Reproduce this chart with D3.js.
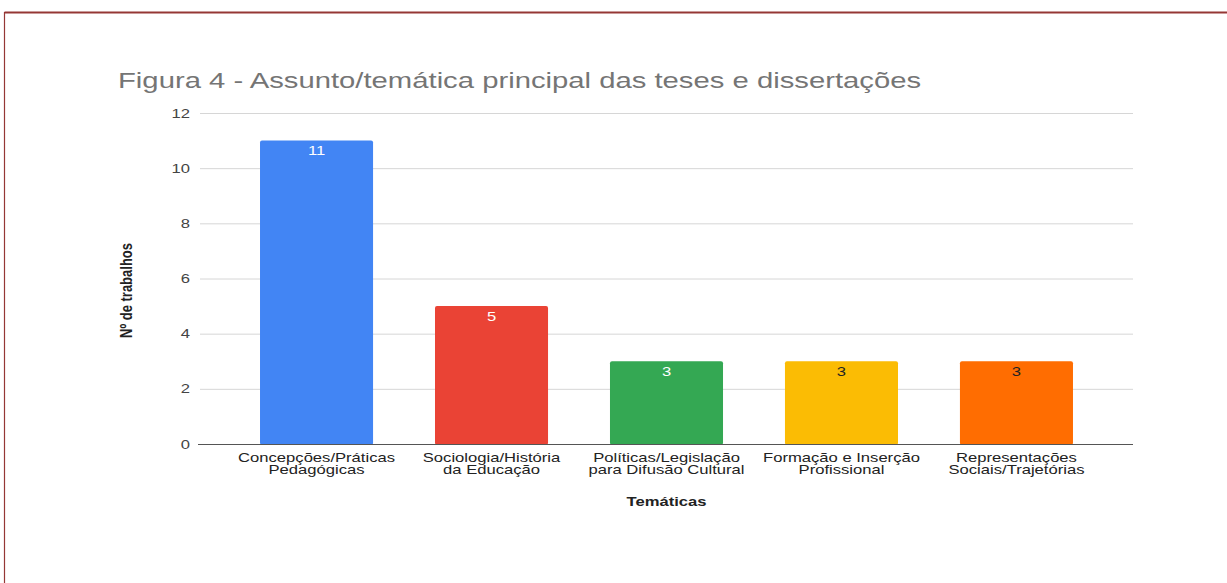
<!DOCTYPE html>
<html><head><meta charset="utf-8">
<script src="https://cdn.jsdelivr.net/npm/d3@7"></script>
<style>body{margin:0;background:#fff}svg{display:block}text{font-family:"Liberation Sans",Arial,sans-serif}</style>
</head><body><svg id="c" width="1227" height="583"></svg>
<script>
const categories = [["Concepções/Práticas","Pedagógicas"],["Sociologia/História","da Educação"],["Políticas/Legislação","para Difusão Cultural"],["Formação e Inserção","Profissional"],["Representações","Sociais/Trajetórias"]];
const values = [11,5,3,3,3];
const colors = ["#4285F4","#EA4335","#34A853","#FBBC04","#FF6D01"];
const labelColors = ["#ffffff","#ffffff","#ffffff","#222222","#222222"];
const yTicks = [0,2,4,6,8,10,12];
const title = "Figura 4 - Assunto/temática principal das teses e dissertações";
const xTitle = "Temáticas";
const yTitle = "Nº de trabalhos";

const SX = 1.33; // horizontal stretch of the glyphs in the reference
const svg = d3.select("#c");
// frame
svg.append("line").attr("x1",4.5).attr("x2",1227).attr("y1",12.5).attr("y2",12.5).attr("stroke","#953735").attr("stroke-width",2);
svg.append("line").attr("x1",4.5).attr("x2",4.5).attr("y1",12).attr("y2",583).attr("stroke","#953735").attr("stroke-width",1.2);

const L=200,R=1133,T=113,B=444;
const y = d3.scaleLinear().domain([0,12]).range([B,T]);
const x = d3.scaleBand().domain(d3.range(values.length)).range([L,R]).paddingInner(0.354).paddingOuter(0.343);

function stext(px,py){ return `translate(${px},${py}) scale(${SX},1)`; }

svg.append("text").attr("transform",stext(118,88)).attr("font-size",22).attr("fill","#757575").text(title);

// grid
const yAxis = d3.axisLeft(y).tickValues(yTicks).tickSize(-(R-L)).tickPadding(10).tickFormat(d3.format("d"));
const g = svg.append("g").attr("transform",`translate(${L},0)`).call(yAxis);
g.select(".domain").remove();
g.selectAll(".tick line").attr("stroke","#d6d6d6").attr("stroke-width",1);
g.selectAll(".tick text").attr("font-size",12.5).attr("fill","#444").attr("font-family","Liberation Sans, Arial, sans-serif")
 .attr("x",-10/SX).attr("transform",`scale(${SX},1)`);

// bars
svg.selectAll("rect.bar").data(values).join("rect").attr("class","bar")
 .attr("x",(d,i)=>x(i)).attr("width",x.bandwidth())
 .attr("y",d=>y(d)).attr("height",d=>B-y(d)+1)
 .attr("rx",2).attr("fill",(d,i)=>colors[i]);
svg.selectAll("text.val").data(values).join("text").attr("class","val")
 .attr("transform",(d,i)=>stext(x(i)+x.bandwidth()/2, y(d)+14.5))
 .attr("text-anchor","middle").attr("font-size",12.5).attr("fill",(d,i)=>labelColors[i]).text(d=>d);

// zero axis line
svg.append("line").attr("x1",L-2).attr("x2",R).attr("y1",B+0.5).attr("y2",B+0.5).attr("stroke","#555").attr("stroke-width",1);

// x labels
const xl = svg.selectAll("text.cat").data(categories).join("text").attr("class","cat")
 .attr("transform",(d,i)=>stext(x(i)+x.bandwidth()/2, 462))
 .attr("text-anchor","middle").attr("font-size",12.5).attr("fill","#222");
xl.each(function(d){
  const t=d3.select(this);
  d.forEach((line,j)=>t.append("tspan").attr("x",0).attr("y",j*12).text(line));
});

svg.append("text").attr("transform",stext((L+R)/2,506)).attr("text-anchor","middle").attr("font-size",12.5).attr("font-weight","bold").attr("fill","#222").text(xTitle);
svg.append("text").attr("transform",`translate(132,${(T+B)/2+12}) scale(${SX},1) rotate(-90)`).attr("text-anchor","middle").attr("font-size",13).attr("font-weight","bold").attr("fill","#222").text(yTitle);
</script></body></html>
